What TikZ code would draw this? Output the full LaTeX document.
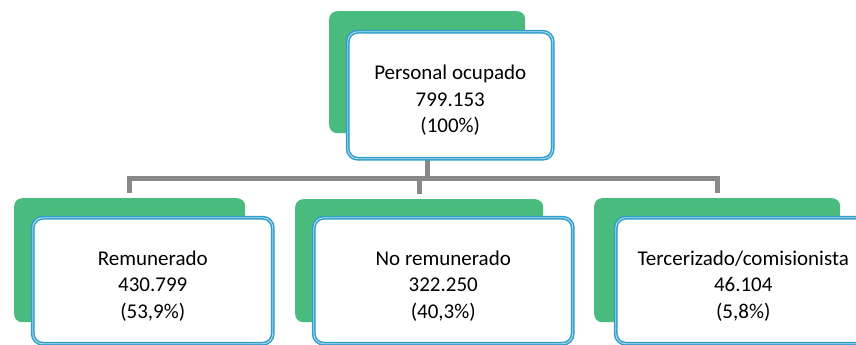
\documentclass[tikz,border=0pt]{standalone}
\usepackage{fontspec}
\setmainfont{Carlito}
\definecolor{cardgreen}{RGB}{74,187,126}
\definecolor{cardblue}{RGB}{46,158,202}
\definecolor{linegray}{RGB}{137,137,137}

\begin{document}
\begin{tikzpicture}[x=1pt,y=-1pt]

	\tikzset{back card/.style={fill=cardgreen, rounded corners=8pt, inner sep=0pt, anchor=north west}}
	\tikzset{front card/.style={draw=cardblue, double=cardblue!35!white, double distance=0.9pt, line width=1.5pt, fill=white, rounded corners=10pt, inner sep=0pt, anchor=north west}}
	\tikzset{card text/.style={align=center, font=\fontsize{21}{26.5}\selectfont, yshift=-5pt}}
	\tikzset{tree line/.style={draw=linegray, line width=5pt}}

	\useasboundingbox (0,0) rectangle (856,345);

	% green cards behind
	\node[back card, minimum width=196pt, minimum height=122pt] (topback) at (329,11) {};
	\node[back card, minimum width=231pt, minimum height=124pt] (remback) at (14,198) {};
	\node[back card, minimum width=248pt, minimum height=123pt] (noremback) at (295,199) {};
	\node[back card, minimum width=246pt, minimum height=124pt] (terback) at (594,198) {};

	% connectors
	\coordinate (busy) at (0,178);
	\draw[tree line] (topback.south) -- (topback.south |- busy);
	\draw[tree line] ([yshift=5pt]remback.north) -- (remback.north |- busy) -- (terback.north |- busy) -- ([yshift=5pt]terback.north);
	\draw[tree line] (noremback.north |- busy) -- ([yshift=5pt]noremback.north);

	% white cards in front
	\node[front card, minimum width=205pt, minimum height=127pt] (top) at (347,31) {};
	\node[front card, minimum width=240pt, minimum height=126pt] (rem) at (32,217) {};
	\node[front card, minimum width=259pt, minimum height=126pt] (norem) at (313,217) {};
	\node[front card, minimum width=255pt, minimum height=126pt] (ter) at (615,217) {};

	\node[card text] (toptext) at (top.center) {Personal ocupado\\799.153\\(100\%)};
	\node[card text] (remtext) at (rem.center) {Remunerado\\430.799\\(53,9\%)};
	\node[card text] (noremtext) at (norem.center) {No remunerado\\322.250\\(40,3\%)};
	\node[card text] (tertext) at (ter.center) {Tercerizado/comisionista\\46.104\\(5,8\%)};

\end{tikzpicture}
\end{document}
